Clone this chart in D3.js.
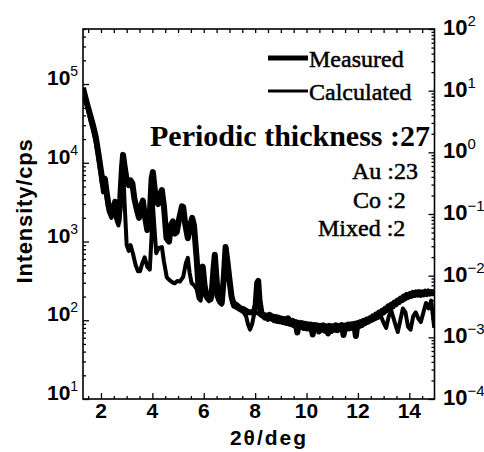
<!DOCTYPE html>
<html><head><meta charset="utf-8">
<script src="https://cdn.jsdelivr.net/npm/d3@7"></script>
<style>
html,body{margin:0;padding:0;background:#fff;}
svg{display:block;}
</style></head>
<body>
<svg id="chart" width="484" height="452"></svg>
<script>
// ---- data (2θ in deg, intensity in cps) ----
const measured = [
[1.30,89000],[1.40,66000],[1.50,50000],[1.60,38000],[1.70,29000],[1.80,21000],[1.90,13000],[2.00,7900],
[2.08,5200],[2.15,6300],[2.22,4200],[2.30,2800],[2.40,2300],[2.48,2600],[2.55,3200],[2.62,2000],[2.68,1800],
[2.75,3500],[2.82,8900],[2.86,12600],[2.92,8900],[3.00,6000],[3.08,5200],[3.15,6000],[3.22,5500],[3.30,3500],
[3.40,2500],[3.48,2000],[3.56,2800],[3.63,3300],[3.70,2200],[3.80,1400],[3.90,2200],[3.97,6300],[4.02,7600],
[4.08,5000],[4.15,3200],[4.22,3000],[4.30,4000],[4.37,4500],[4.45,2800],[4.55,1100],[4.65,1000],[4.72,1600],
[4.80,1800],[4.88,1260],[4.95,1320],[5.05,2000],[5.15,2800],[5.20,2750],[5.28,1660],[5.38,1100],[5.47,1600],
[5.55,2000],[5.62,1600],[5.72,630],[5.80,250],[5.88,200],[5.96,480],[6.03,280],[6.10,210],[6.20,190],[6.30,200],
[6.38,450],[6.43,680],[6.48,400],[6.55,200],[6.62,180],[6.70,165],[6.78,350],[6.85,850],[6.92,560],[7.00,330],
[7.08,200],[7.15,165],[7.25,158],[7.35,148],[7.45,141],[7.55,138],[7.65,132],[7.75,126],[7.85,126],[7.95,123],
[8.02,158],[8.08,300],[8.12,316],[8.17,178],[8.25,120],
[8.32,118],[8.38,108],[8.44,114],[8.50,104],[8.56,117],[8.62,106],[8.68,112],[8.74,100],[8.80,110],[8.86,98],
[8.92,108],[8.98,97],[9.04,105],[9.10,95],[9.16,103],[9.22,93],[9.28,106],[9.34,98],[9.40,90],[9.46,98],
[9.52,86],[9.58,95],[9.64,70],[9.70,93],[9.76,82],[9.82,92],[9.88,80],[9.94,90],[10.00,79],[10.06,89],
[10.12,78],[10.18,88],[10.24,66],[10.30,87],[10.36,77],[10.42,86],[10.48,72],[10.54,85],[10.60,77],[10.66,86],
[10.72,74],[10.78,84],[10.84,68],[10.90,85],[10.96,73],[11.02,84],[11.08,76],[11.14,86],[11.20,75],[11.26,85],
[11.32,77],[11.38,87],[11.44,65],[11.50,86],[11.56,78],[11.62,88],[11.68,79],[11.74,89],[11.80,80],[11.86,90],
[11.92,63],[11.98,92],[12.04,84],[12.10,95],[12.16,87],[12.22,98],[12.28,92],[12.34,102],[12.40,96],[12.46,106],
[12.52,101],[12.58,112],[12.64,106],[12.70,118],[12.76,112],[12.82,125],[12.88,118],[12.94,132],[13.00,126],
[13.06,140],[13.12,134],[13.18,150],[13.24,141],[13.30,158],[13.36,150],[13.42,168],[13.48,160],[13.54,178],
[13.60,170],[13.66,188],[13.72,180],[13.78,200],[13.84,190],[13.90,210],[13.96,198],[14.02,215],[14.08,205],
[14.14,222],[14.20,210],[14.26,225],[14.32,212],[14.38,228],[14.44,210],[14.50,226],[14.56,214],[14.62,230],
[14.68,215],[14.74,232],[14.80,218],[14.86,228],[14.92,220],[14.97,225]
];
const calculated = [
[1.30,83000],[1.40,60000],[1.50,46000],[1.60,33000],[1.70,25000],[1.80,17800],[1.90,11200],[2.00,6600],
[2.08,4200],[2.15,5600],[2.22,3500],[2.30,2400],[2.40,2000],[2.48,2200],[2.55,2800],[2.62,1800],[2.68,1600],
[2.75,2500],[2.82,6500],[2.86,9000],[2.92,3000],[3.00,900],[3.08,760],[3.15,900],[3.24,710],[3.35,500],
[3.44,420],[3.52,420],[3.60,520],[3.70,630],[3.80,480],[3.90,440],[3.97,1200],[4.02,3000],[4.08,1500],
[4.15,710],[4.25,830],[4.37,850],[4.45,560],[4.56,350],[4.68,320],[4.80,300],[4.87,295],[4.97,316],[5.07,310],
[5.20,355],[5.30,525],[5.38,620],[5.45,400],[5.53,295],[5.62,280],[5.72,250],[5.80,190],[5.88,178],[5.96,400],
[6.03,250],[6.10,190],[6.20,174],[6.30,182],[6.38,400],[6.43,600],[6.48,355],[6.55,182],[6.62,166],[6.70,158],
[6.78,316],[6.85,760],[6.92,500],[7.00,300],[7.08,182],[7.15,150],[7.25,145],[7.35,138],[7.45,132],[7.55,126],
[7.65,112],[7.72,89],[7.80,76],[7.88,89],[7.96,120],[8.05,126],[8.15,120],[8.25,112],[8.50,105],[8.80,100],
[9.10,93],[9.40,87],[9.70,81],[10.00,78],[10.30,76],[10.60,74],[10.90,74],[11.20,76],[11.50,78],[11.80,81],
[12.10,87],[12.40,95],[12.70,105],[12.90,112],[13.00,93],[13.10,80],[13.20,112],[13.30,132],[13.45,90],
[13.55,71],[13.65,100],[13.75,141],[13.85,126],[13.95,83],[14.05,76],[14.15,112],[14.25,126],[14.35,105],
[14.45,95],[14.55,126],[14.65,166],[14.75,141],[14.85,178],[14.92,112],[14.97,80]
];
const xMajorTicks = [2,4,6,8,10,12,14];
const xMinorTicks = [1.5,2.5,3,3.5,4.5,5,5.5,6.5,7,7.5,8.5,9,9.5,10.5,11,11.5,12.5,13,13.5,14.5];
const leftExponents = [1,2,3,4,5];
const rightExponents = [-4,-3,-2,-1,0,1,2];
const legendLabels = ["Measured","Calculated"];
const annotTitle = "Periodic thickness :27";
const annotLines = ["Au :23","Co :2","Mixed :2"];

// ---- layout ----
const L=83, R=434.5, T=29, B=399;
const svg = d3.select("#chart");
const x = d3.scaleLinear().domain([1.3,15]).range([L,R+0.5]);
const yL = d3.scaleLog().domain([10,5e5]).range([B,T]);
const yR = d3.scaleLog().domain([1e-4,1e2]).range([B,T]);

svg.append("defs").append("clipPath").attr("id","clip")
  .append("rect").attr("x",L).attr("y",T).attr("width",R-L).attr("height",B-T);

// data lines
const line = d3.line().x(d=>x(d[0])).y(d=>yL(d[1]));
const g = svg.append("g").attr("clip-path","url(#clip)");
g.append("path").datum(calculated).attr("d",line).attr("fill","none")
  .attr("stroke","#000").attr("stroke-width",4).attr("stroke-linejoin","round");
g.append("path").datum(measured).attr("d",line).attr("fill","none")
  .attr("stroke","#000").attr("stroke-width",6).attr("stroke-linejoin","round");

// axes with inward ticks
const axStyle = sel => { sel.select(".domain").remove(); sel.selectAll("line").attr("stroke","#000").attr("stroke-width",1.3); };
svg.append("g").attr("transform",`translate(0,${B})`)
  .call(d3.axisBottom(x).tickValues(xMajorTicks).tickSize(-6).tickFormat("")).call(axStyle);
svg.append("g").attr("transform",`translate(0,${B})`)
  .call(d3.axisBottom(x).tickValues(xMinorTicks).tickSize(-3).tickFormat("")).call(axStyle);
svg.append("g").attr("transform",`translate(0,${T})`)
  .call(d3.axisTop(x).tickValues(xMajorTicks.concat(xMinorTicks)).tickSize(-4).tickFormat("")).call(axStyle);

const lTicks = yL.ticks(50);
const isMajor = v => Math.abs(Math.log10(v) - Math.round(Math.log10(v))) < 1e-9;
svg.append("g").attr("transform",`translate(${L},0)`)
  .call(d3.axisLeft(yL).tickValues(lTicks.filter(isMajor)).tickSize(-6).tickFormat("")).call(axStyle);
svg.append("g").attr("transform",`translate(${L},0)`)
  .call(d3.axisLeft(yL).tickValues(lTicks.filter(v=>!isMajor(v))).tickSize(-3).tickFormat("")).call(axStyle);
const rTicks = yR.ticks(50);
svg.append("g").attr("transform",`translate(${R},0)`)
  .call(d3.axisRight(yR).tickValues(rTicks.filter(isMajor)).tickSize(-6).tickFormat("")).call(axStyle);
svg.append("g").attr("transform",`translate(${R},0)`)
  .call(d3.axisRight(yR).tickValues(rTicks.filter(v=>!isMajor(v))).tickSize(-3).tickFormat("")).call(axStyle);

// frame
svg.append("rect").attr("x",L).attr("y",T).attr("width",R-L).attr("height",B-T)
  .attr("fill","none").attr("stroke","#000").attr("stroke-width",1.6);

// tick labels
const sans = "'Liberation Sans', Arial, sans-serif";
const narrow = "'Liberation Sans Narrow', 'Arial Narrow', 'Liberation Sans', sans-serif";
svg.append("g").selectAll("text").data(xMajorTicks).join("text")
  .attr("x",d=>x(d)).attr("y",B+19).attr("text-anchor","middle")
  .attr("font-family",narrow).attr("font-weight","bold").attr("font-size",21).text(d=>d);

const lg = svg.append("g");
leftExponents.forEach(e=>{
  const t = lg.append("text").attr("x",47).attr("y",yL(Math.pow(10,e))+1)
    .attr("font-family",sans).attr("font-size",21).attr("font-weight","bold");
  t.append("tspan").text("10");
  t.append("tspan").attr("font-size",14).attr("dy",-9).attr("font-weight","normal").text(e);
});

const rg = svg.append("g");
rightExponents.forEach(e=>{
  const t = rg.append("text").attr("x",443).attr("y",yR(Math.pow(10,e))+6)
    .attr("font-family",narrow).attr("font-size",22).attr("font-weight","bold");
  t.append("tspan").text("10");
  t.append("tspan").attr("font-size",15).attr("dy",-9).attr("font-weight","normal").text(e<0?"\u2212"+(-e):e);
});

// axis titles
svg.append("text").attr("x",269).attr("y",445).attr("text-anchor","middle")
  .attr("font-family",sans).attr("font-weight","bold").attr("font-size",21)
  .attr("letter-spacing",2).text("2\u03B8/deg");
svg.append("text").attr("transform","translate(32,211) rotate(-90)").attr("text-anchor","middle")
  .attr("font-family",sans).attr("font-weight","bold").attr("font-size",22).attr("letter-spacing",0.8)
  .text("Intensity/cps");

// legend
const serif = "'Liberation Serif','Times New Roman',serif";
const legY = [58,91], legW=[5,3.2];
legendLabels.forEach((lab,i)=>{
  svg.append("line").attr("x1",268).attr("x2",308).attr("y1",legY[i]).attr("y2",legY[i])
    .attr("stroke","#000").attr("stroke-width",legW[i]);
  svg.append("text").attr("x",309).attr("y",legY[i]+9).attr("font-family",serif)
    .attr("font-size",24).attr("stroke","#000").attr("stroke-width",0.5).text(lab);
});
svg.append("text").attr("x",430).attr("y",146).attr("text-anchor","end").attr("font-family",serif)
  .attr("font-weight","bold").attr("font-size",30).text(annotTitle);
const annX=[352,353,318], annY=[179,208,236];
annotLines.forEach((s,i)=>{
  svg.append("text").attr("x",annX[i]).attr("y",annY[i]).attr("font-family",serif)
    .attr("font-size",24).attr("stroke","#000").attr("stroke-width",0.5).text(s);
});
</script>
</body></html>
